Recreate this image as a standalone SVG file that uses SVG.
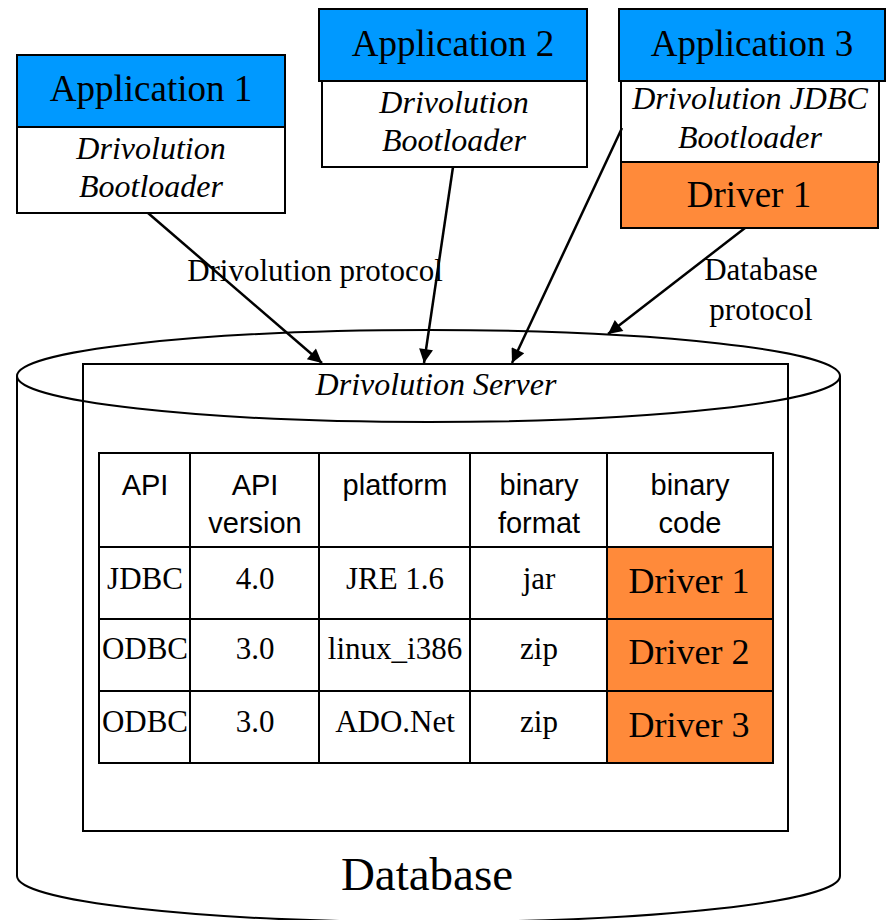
<svg xmlns="http://www.w3.org/2000/svg" width="886" height="920" viewBox="0 0 886 920">
<defs>
<marker id="arr" viewBox="0 0 10 10" refX="10" refY="5" markerWidth="18" markerHeight="14" markerUnits="userSpaceOnUse" orient="auto">
<path d="M0,0 L10,5 L0,10 z" fill="#000"/>
</marker>
<style>
.box{stroke:#000;stroke-width:2}
.blue{fill:#0099FF}
.white{fill:#fff}
.orange{fill:#FF8A3A}
.serif{font-family:"Liberation Serif","Times New Roman",serif;fill:#000}
.it{font-style:italic}
.sans{font-family:"Liberation Sans",Arial,sans-serif;fill:#000}
.mid{text-anchor:middle}
.conn{stroke:#000;stroke-width:2.5;fill:none}
.grid{stroke:#000;stroke-width:2;fill:none}
</style>
</defs>
<rect width="886" height="920" fill="#fff"/>

<g id="database">
<path d="M17,376 L17,876 A411.5,46 0 0 0 840,876 L840,376" fill="#fff" stroke="#000" stroke-width="2"/>
<rect x="83" y="364" width="705" height="467" fill="none" stroke="#000" stroke-width="2"/>
<ellipse cx="428.5" cy="376" rx="411.5" ry="46" fill="none" stroke="#000" stroke-width="2"/>
<text x="427" y="890" class="serif mid" font-size="47">Database</text>
</g>

<g id="server">
<text x="436" y="395" class="serif it mid" font-size="32">Drivolution Server</text>
</g>

<g id="table">
<rect x="99" y="453" width="674" height="310" class="white"/>
<rect x="607" y="547" width="166" height="216" class="orange"/>
<rect x="99" y="453" width="674" height="310" class="grid"/>
<line x1="99" y1="547" x2="773" y2="547" class="grid"/>
<line x1="99" y1="619" x2="773" y2="619" class="grid"/>
<line x1="99" y1="691" x2="773" y2="691" class="grid"/>
<line x1="190" y1="453" x2="190" y2="763" class="grid"/>
<line x1="319" y1="453" x2="319" y2="763" class="grid"/>
<line x1="470" y1="453" x2="470" y2="763" class="grid"/>
<line x1="607" y1="453" x2="607" y2="763" class="grid"/>
<g class="sans mid" font-size="29">
<text x="145" y="495">API</text>
<text x="255" y="495">API</text>
<text x="255" y="533">version</text>
<text x="395" y="495">platform</text>
<text x="539" y="495">binary</text>
<text x="539" y="533">format</text>
<text x="690" y="495">binary</text>
<text x="690" y="533">code</text>
</g>
<g class="serif mid" font-size="31">
<text x="145" y="589">JDBC</text>
<text x="255" y="589">4.0</text>
<text x="395" y="589">JRE 1.6</text>
<text x="539" y="589">jar</text>
<text x="145" y="659">ODBC</text>
<text x="255" y="659">3.0</text>
<text x="395" y="659">linux_i386</text>
<text x="539" y="659">zip</text>
<text x="145" y="732">ODBC</text>
<text x="255" y="732">3.0</text>
<text x="395" y="732">ADO.Net</text>
<text x="539" y="732">zip</text>
</g>
<g class="serif mid" font-size="36">
<text x="689" y="593">Driver 1</text>
<text x="689" y="664">Driver 2</text>
<text x="689" y="737">Driver 3</text>
</g>
</g>

<g id="app1">
<rect x="17" y="55" width="268" height="72" class="box blue"/>
<rect x="17" y="127" width="268" height="86" class="box white"/>
<text x="151" y="101" class="serif mid" font-size="37">Application 1</text>
<text x="151" y="159" class="serif it mid" font-size="32">Drivolution</text>
<text x="151" y="197" class="serif it mid" font-size="32">Bootloader</text>
</g>

<g id="app2">
<rect x="319" y="9" width="268" height="72" class="box blue"/>
<rect x="322" y="81" width="265" height="86" class="box white"/>
<text x="453" y="56" class="serif mid" font-size="37">Application 2</text>
<text x="454" y="113" class="serif it mid" font-size="32">Drivolution</text>
<text x="454" y="151" class="serif it mid" font-size="32">Bootloader</text>
</g>

<g id="app3">
<rect x="619" y="9" width="266" height="72" class="box blue"/>
<rect x="621" y="81" width="258" height="81" class="box white"/>
<rect x="621" y="162" width="257" height="66" class="box orange"/>
<text x="752" y="56" class="serif mid" font-size="37">Application 3</text>
<text x="750" y="109" class="serif it mid" font-size="32">Drivolution JDBC</text>
<text x="750" y="148" class="serif it mid" font-size="32">Bootloader</text>
<text x="749" y="207" class="serif mid" font-size="37">Driver 1</text>
</g>

<g id="connectors">
<line x1="148" y1="213" x2="322" y2="363" class="conn" marker-end="url(#arr)"/>
<line x1="453" y1="167" x2="424" y2="363" class="conn" marker-end="url(#arr)"/>
<line x1="622" y1="128" x2="512" y2="363" class="conn" marker-end="url(#arr)"/>
<line x1="745" y1="228" x2="608" y2="334" class="conn" marker-end="url(#arr)"/>
<text x="315" y="281" class="serif mid" font-size="31">Drivolution protocol</text>
<text x="761" y="280" class="serif mid" font-size="31">Database</text>
<text x="761" y="320" class="serif mid" font-size="31">protocol</text>
</g>
</svg>
